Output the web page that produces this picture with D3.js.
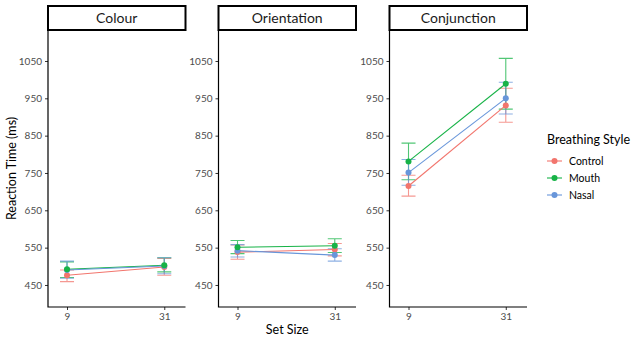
<!DOCTYPE html>
<html>
<head>
<meta charset="utf-8">
<script src="https://cdn.jsdelivr.net/npm/d3@7"></script>
<style>
  body { margin: 0; background: #fff; }
  svg { font-family: Lato, "Open Sans", sans-serif; }
</style>
</head>
<body>
<div id="chart"></div>
<script>
// facet panels and groups
const tasks = ['Colour', 'Orientation', 'Conjunction'];
const styles = ['Control', 'Mouth', 'Nasal'];
const setSizes = [9, 31];
const yTicks = [450, 550, 650, 750, 850, 950, 1050];

// mean reaction time per task, [set size 9, set size 31]
const controlMean = { Colour: [476, 498], Orientation: [538, 545], Conjunction: [715, 931] };
const mouthMean = { Colour: [492, 503], Orientation: [551, 555], Conjunction: [781, 989] };
const nasalMean = { Colour: [490, 501], Orientation: [542, 530], Conjunction: [751, 950] };

// error bar bounds [low, high]
const controlErr = {
  Colour: [[459, 490], [476, 521]],
  Orientation: [[519, 557], [528, 561]],
  Conjunction: [[688, 744], [886, 977]],
};
const mouthErr = {
  Colour: [[470, 512], [485, 523]],
  Orientation: [[534, 569], [537, 574]],
  Conjunction: [[732, 830], [921, 1057]],
};
const nasalErr = {
  Colour: [[468, 514], [480, 523]],
  Orientation: [[525, 558], [514, 547]],
  Conjunction: [[717, 786], [908, 993]],
};

const means = { Control: controlMean, Mouth: mouthMean, Nasal: nasalMean };
const errs = { Control: controlErr, Mouth: mouthErr, Nasal: nasalErr };
const colors = { Control: '#F2756D', Mouth: '#17B347', Nasal: '#6896DA' };
// mouth points sit on top where they overlap
const pointOrder = ['Control', 'Nasal', 'Mouth'];

const width = 640;
const height = 343;
const panelLeft = [48, 218.5, 389.5];
const panelWidth = 137.5;
const plotTop = 30;
const plotBottom = 307;

const svg = d3.select('#chart').append('svg')
  .attr('width', width)
  .attr('height', height);

const y = d3.scaleLinear().domain([391, 1133]).range([plotBottom, plotTop]);

tasks.forEach((task, i) => {
  const left = panelLeft[i];
  const x = d3.scaleLinear().domain([4.7, 35.8]).range([left, left + panelWidth]);
  const g = svg.append('g');

  // strip
  g.append('rect')
    .attr('x', left).attr('y', 6)
    .attr('width', panelWidth).attr('height', plotTop - 6)
    .attr('fill', '#fff').attr('stroke', '#000').attr('stroke-width', 2);
  g.append('text')
    .attr('x', left + panelWidth / 2).attr('y', 18)
    .attr('dy', '0.35em')
    .attr('text-anchor', 'middle')
    .attr('font-size', 14)
    .attr('fill', '#1a1a1a')
    .text(task);

  // axes
  const yAxis = g.append('g')
    .attr('transform', `translate(${left},0)`)
    .call(d3.axisLeft(y).tickValues(yTicks).tickFormat(d3.format('d')).tickSize(3).tickPadding(3));
  yAxis.select('.domain').remove();
  const xAxis = g.append('g')
    .attr('transform', `translate(0,${plotBottom})`)
    .call(d3.axisBottom(x).tickValues(setSizes).tickFormat(d3.format('d')).tickSize(3).tickPadding(3));
  xAxis.select('.domain').remove();
  [yAxis, xAxis].forEach((ax) => {
    ax.selectAll('text').attr('font-size', 10).attr('fill', '#4d4d4d')
      .attr('font-family', 'Lato, sans-serif');
    ax.selectAll('line').attr('stroke', '#333');
  });
  g.append('path')
    .attr('d', `M${left},${plotTop}V${plotBottom}H${left + panelWidth}`)
    .attr('fill', 'none').attr('stroke', '#000').attr('stroke-width', 1.2);

  // error bars
  const cap = 7;
  styles.forEach((s) => {
    errs[s][task].forEach((e, j) => {
      const cx = x(setSizes[j]);
      const eg = g.append('g')
        .attr('stroke', colors[s]).attr('stroke-width', 1.1)
        .attr('stroke-opacity', 0.75).attr('fill', 'none');
      eg.append('path')
        .attr('d', `M${cx - cap},${y(e[1])}H${cx + cap}M${cx},${y(e[1])}V${y(e[0])}M${cx - cap},${y(e[0])}H${cx + cap}`);
    });
  });

  // lines
  const line = d3.line().x((d, j) => x(setSizes[j])).y((d) => y(d));
  styles.forEach((s) => {
    g.append('path')
      .datum(means[s][task])
      .attr('d', line)
      .attr('fill', 'none')
      .attr('stroke', colors[s])
      .attr('stroke-width', 1.1);
  });

  // points
  pointOrder.forEach((s) => {
    g.selectAll(null)
      .data(means[s][task])
      .enter().append('circle')
      .attr('cx', (d, j) => x(setSizes[j]))
      .attr('cy', (d) => y(d))
      .attr('r', 3)
      .attr('fill', colors[s]);
  });
});

// axis titles
svg.append('text')
  .attr('x', panelLeft[1] + panelWidth / 2).attr('y', 330)
  .attr('dy', '0.35em')
  .attr('text-anchor', 'middle')
  .attr('font-size', 12.5)
  .text('Set Size');
svg.append('text')
  .attr('transform', `translate(12,${(plotTop + plotBottom) / 2}) rotate(-90)`)
  .attr('dy', '0.35em')
  .attr('text-anchor', 'middle')
  .attr('font-size', 12.5)
  .text('Reaction Time (ms)');

// legend
const legend = svg.append('g').attr('transform', 'translate(547,0)');
legend.append('text')
  .attr('x', 0).attr('y', 140)
  .attr('dy', '0.35em')
  .attr('font-size', 12.5)
  .text('Breathing Style');
styles.forEach((s, i) => {
  const ly = 161 + i * 17;
  legend.append('line')
    .attr('x1', 0).attr('x2', 15).attr('y1', ly).attr('y2', ly)
    .attr('stroke', colors[s]).attr('stroke-width', 1.1);
  legend.append('circle')
    .attr('cx', 7.5).attr('cy', ly).attr('r', 3)
    .attr('fill', colors[s]);
  legend.append('text')
    .attr('x', 22).attr('y', ly)
    .attr('dy', '0.35em')
    .attr('font-size', 10.5)
    .text(s);
});
</script>
</body>
</html>
